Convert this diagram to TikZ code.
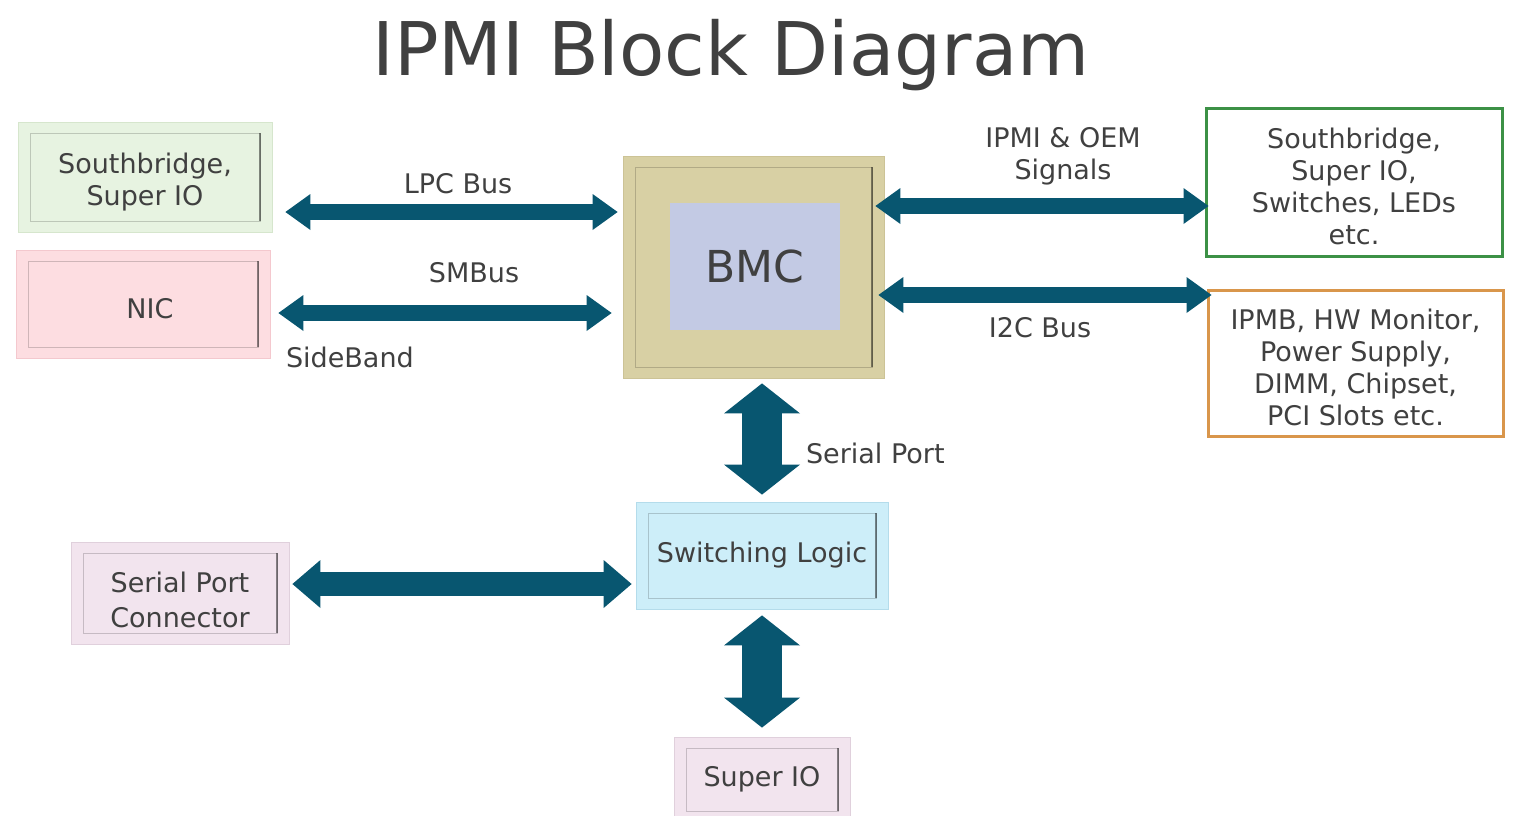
\documentclass[tikz,border=0pt]{standalone}
\usepackage{fontspec}
\setmainfont{DejaVu Sans}
\usetikzlibrary{arrows.meta}
\definecolor{text_gray}{RGB}{64,64,64}
\definecolor{bus_teal}{RGB}{8,86,112}
\definecolor{fill_green}{RGB}{231,243,225}
\definecolor{edge_green}{RGB}{214,230,205}
\definecolor{fill_red}{RGB}{253,221,225}
\definecolor{edge_red}{RGB}{244,200,206}
\definecolor{fill_khaki}{RGB}{216,208,164}
\definecolor{edge_khaki}{RGB}{204,195,150}
\definecolor{fill_chip}{RGB}{195,202,228}
\definecolor{fill_cyan}{RGB}{205,238,249}
\definecolor{edge_cyan}{RGB}{180,220,235}
\definecolor{fill_lilac}{RGB}{242,228,238}
\definecolor{edge_lilac}{RGB}{224,208,220}
\definecolor{line_green}{RGB}{60,145,70}
\definecolor{line_orange}{RGB}{217,150,75}
\newcommand{\boxstrut}[1][15pt]{\rule{0pt}{#1}}

\begin{document}
\begin{tikzpicture}[x=0.5pt,y=-0.5pt,text=text_gray,font=\fontsize{13.5}{16}\selectfont]
    \tikzstyle{box}=[rectangle, inner sep=0pt, align=center]
    \tikzstyle{bevel}=[path picture={
        \draw[black, opacity=0.18] ([shift={(6pt,-5.5pt)}]path picture bounding box.north west) rectangle ([shift={(-6pt,5.5pt)}]path picture bounding box.south east);
        \draw[black, opacity=0.45, line width=0.8pt] ([shift={(-6pt,-5.5pt)}]path picture bounding box.north east) -- ([shift={(-6pt,5.5pt)}]path picture bounding box.south east);
    }]
    \tikzstyle{soft}=[style=box, style=bevel]
    \tikzstyle{frame}=[style=box, fill=white, line width=1.5pt]
    \tikzstyle{bus}=[bus_teal, line width=8pt, >={Triangle[length=12.5pt,width=18pt,line width=0pt]}, <->]
    \tikzstyle{wide bus}=[style=bus, line width=12pt, >={Triangle[length=14pt,width=24pt,line width=0pt]}]
    \tikzstyle{riser}=[style=bus, line width=20pt, >={Triangle[length=15pt,width=38pt,line width=0pt]}]

    \useasboundingbox (0,0) rectangle (1518,815);
    \clip (0,0) rectangle (1518,815);

    \node[anchor=base, font=\fontsize{37}{44}\selectfont, text=black!75] (title) at (731,75) {IPMI Block Diagram};

    \node[soft, fill=fill_green, draw=edge_green, minimum width=127pt, minimum height=55pt] (sbl) at (145,177) {\boxstrut Southbridge,\\Super IO};
    \node[soft, fill=fill_red, draw=edge_red, minimum width=127pt, minimum height=54pt] (nic) at (143,304) {\boxstrut\hspace{7pt}NIC};
    \node[soft, fill=fill_khaki, draw=edge_khaki, minimum width=130.5pt, minimum height=111pt] (bmc) at (753.5,267) {};
    \node[box, fill=fill_chip, minimum width=85pt, minimum height=63.5pt, font=\fontsize{22}{26}\selectfont] (chip) at (755,266.5) {BMC};
    \node[frame, draw=line_green, minimum width=148pt, minimum height=74pt] (sbr) at (1354,182) {\boxstrut Southbridge,\\Super IO,\\Switches, LEDs\\etc.};
    \node[frame, draw=line_orange, minimum width=147.5pt, minimum height=73pt] (mon) at (1355.5,363) {\boxstrut IPMB, HW Monitor,\\Power Supply,\\DIMM, Chipset,\\PCI Slots etc.};
    \node[soft, fill=fill_cyan, draw=edge_cyan, minimum width=126pt, minimum height=53.5pt] (swl) at (762,555.5) {Switching Logic};
    \node[soft, fill=fill_lilac, draw=edge_lilac, minimum width=109pt, minimum height=51pt, font=\fontsize{13.5}{17.5}\selectfont] (spc) at (180,593) {\boxstrut[17.5pt]Serial Port\\Connector};
    \node[soft, fill=fill_lilac, draw=edge_lilac, minimum width=88pt, minimum height=42.5pt] (sio) at (762,779.5) {Super IO};

    % bus labels
    \node (lpc) at (458,184) {LPC Bus};
    \node (smb) at (474,273) {SMBus};
    \node[anchor=west] (side) at (279,357) {SideBand};
    \node[align=center] (oem) at (1063,156) {IPMI \& OEM\\Signals};
    \node (i2c) at (1040,328) {I2C Bus};
    \node[anchor=west] (ser) at (799,453) {Serial Port};

    \path
     (sbl.east |- 0,212) edge[bus, shorten <=6.5pt, shorten >=2.5pt] (bmc.west |- 0,212)
     (nic.east |- 0,313) edge[bus, shorten <=4pt, shorten >=5.5pt] (bmc.west |- 0,313)
     (bmc.east |- 0,206) edge[bus, shorten <=-4.5pt, shorten >=-2pt] (sbr.west |- 0,206)
     (bmc.east |- 0,295) edge[bus, shorten <=-3pt, shorten >=-2.5pt] (mon.west |- 0,295)
     (bmc.south -| swl.north) edge[riser, shorten <=2.5pt, shorten >=3.5pt] (swl.north)
     (swl.south) edge[riser, shorten <=3pt, shorten >=4.5pt] (sio.north)
     (spc.east |- 0,584) edge[wide bus, shorten <=1.5pt, shorten >=2pt] (swl.west |- 0,584)
     ;
\end{tikzpicture}
\end{document}
